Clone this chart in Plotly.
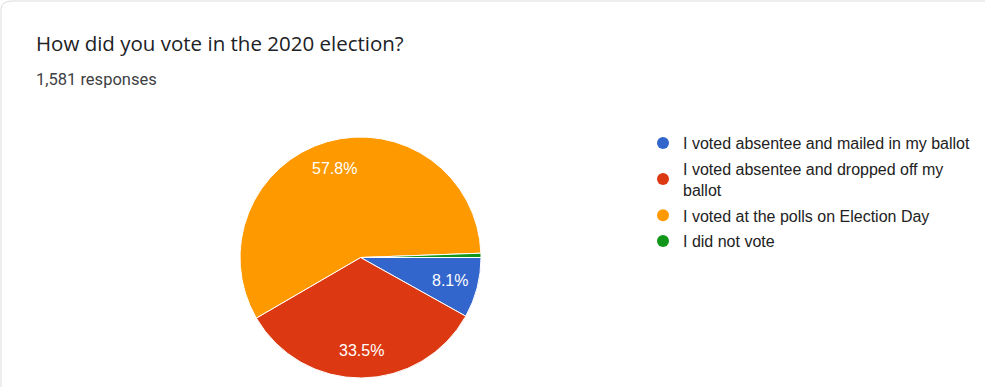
import math
import plotly.graph_objects as go

labels = ["I voted absentee and mailed in my ballot",
          "I voted absentee and dropped off my<br>ballot",
          "I voted at the polls on Election Day",
          "I did not vote"]
counts = [128, 530, 914, 9]
colors = ["#3366cc", "#dc3912", "#ff9900", "#109618"]
show_label = [True, True, True, False]

W, H = 985, 387
px0, px1, py0, py1 = 240, 481, 137, 378  # pie box in pixels
cx, cy, R = (px0 + px1) / 2, (py0 + py1) / 2, (px1 - px0) / 2

fig = go.Figure()
fig.add_trace(go.Pie(
    labels=labels, values=counts, sort=False, direction="clockwise", rotation=90,
    marker=dict(colors=colors, line=dict(color="white", width=1)),
    textinfo="none",
    domain=dict(x=[px0/W, px1/W], y=[1-py1/H, 1-py0/H]),
    showlegend=False, hoverinfo="label+percent",
))
for i, (lab, col) in enumerate(zip(labels, colors)):
    fig.add_trace(go.Scatter(x=[None], y=[None], mode="markers", name=lab,
                             legendgroup=f"g{i}",
                             marker=dict(symbol="circle", size=16, color=col)))

# percentage labels placed along each slice's mid-angle (computed from data)
total = sum(counts)
annots = []
start = 0.0
for v, show in zip(counts, show_label):
    frac = v / total
    mid = (start + frac / 2) * 2 * math.pi  # clockwise from 3 o'clock
    start += frac
    if not show:
        continue
    r = 0.77 * R
    x = cx + r * math.cos(mid)
    y = cy + r * math.sin(mid)
    annots.append(dict(text=f"{frac*100:.1f}%", x=x/W, y=1-y/H, xref="paper", yref="paper",
                       xanchor="center", yanchor="middle", showarrow=False,
                       font=dict(family="Liberation Sans, Arial", size=16, color="white")))

fig.update_layout(
    width=W, height=H, margin=dict(l=0, r=0, t=0, b=0),
    paper_bgcolor="white", plot_bgcolor="white",
    xaxis=dict(visible=False), yaxis=dict(visible=False),
    legend=dict(x=643/W, y=1-126/H, xanchor="left", yanchor="top",
                font=dict(family="Liberation Sans, Arial", size=16, color="#222222"),
                itemsizing="constant", tracegroupgap=2, bgcolor="rgba(0,0,0,0)"),
    annotations=[
        dict(text="How did you vote in the 2020 election?", x=34/W, y=1-43/H,
             xref="paper", yref="paper", xanchor="left", yanchor="middle",
             showarrow=False, font=dict(family="Open Sans", size=20.5, color="#202124")),
        dict(text="1,581 responses", x=34/W, y=1-79/H, xref="paper", yref="paper",
             xanchor="left", yanchor="middle", showarrow=False,
             font=dict(family="Roboto", size=16.5, color="#3c4043")),
    ] + annots,
    shapes=[dict(type="path", xref="paper", yref="paper",
                 path=f"M {1/W} 0 L {1/W} {1-10/H} Q {1/W} {1-1/H} {12/W} {1-1/H} L 1 {1-1/H}",
                 line=dict(color="#dadce0", width=1))],
)
fig.write_html("out.html")
